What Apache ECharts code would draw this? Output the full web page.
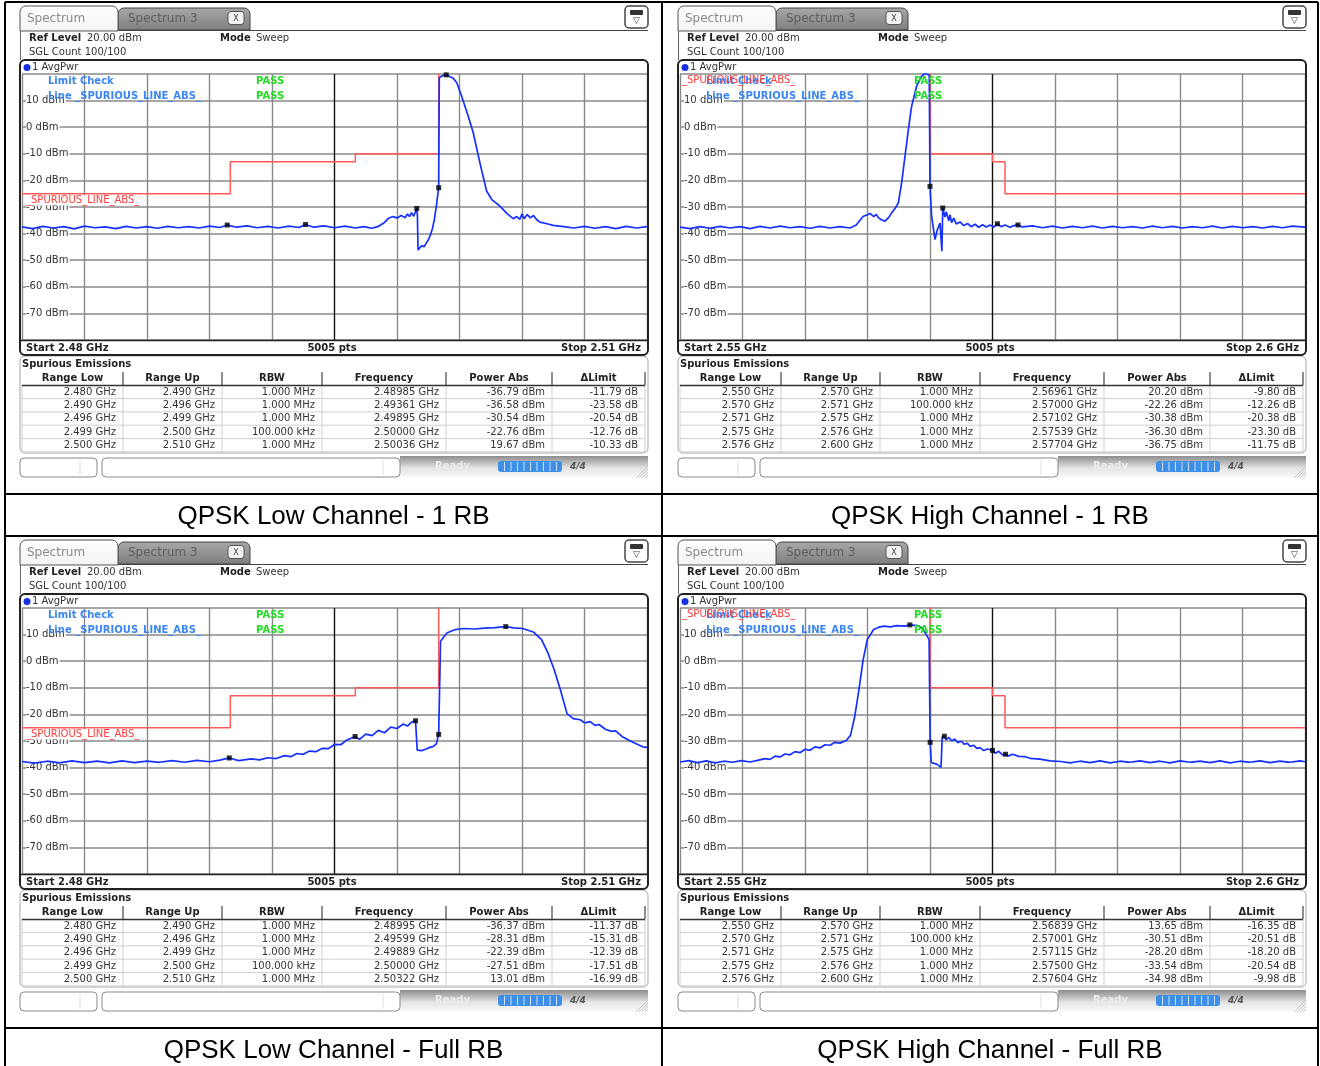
<!DOCTYPE html>
<html><head><meta charset="utf-8">
<script src="https://cdn.jsdelivr.net/npm/echarts@6/dist/echarts.min.js"></script>
<style>html,body{margin:0;padding:0;background:#fff}#c{width:1320px;height:1066px}</style>
</head><body><div id="c"></div>
<script>
// ---------- DATA ----------
const captions = ['QPSK Low Channel - 1 RB','QPSK High Channel - 1 RB','QPSK Low Channel - Full RB','QPSK High Channel - Full RB'];
const startFreqs = [2.48, 2.55, 2.48, 2.55];
const stopFreqs = [2.51, 2.60, 2.51, 2.60];
const startLabels = ['Start 2.48 GHz','Start 2.55 GHz','Start 2.48 GHz','Start 2.55 GHz'];
const stopLabels = ['Stop 2.51 GHz','Stop 2.6 GHz','Stop 2.51 GHz','Stop 2.6 GHz'];
const pointsLabel = '5005 pts';
const yMin = -80, yMax = 20, yStep = 10;
const tableHeaders = ['Range Low','Range Up','RBW','Frequency','Power Abs','\u0394Limit'];
const lowRangeLow = ['2.480 GHz','2.490 GHz','2.496 GHz','2.499 GHz','2.500 GHz'];
const lowRangeUp = ['2.490 GHz','2.496 GHz','2.499 GHz','2.500 GHz','2.510 GHz'];
const lowRbw = ['1.000 MHz','1.000 MHz','1.000 MHz','100.000 kHz','1.000 MHz'];
const highRangeLow = ['2.550 GHz','2.570 GHz','2.571 GHz','2.575 GHz','2.576 GHz'];
const highRangeUp = ['2.570 GHz','2.571 GHz','2.575 GHz','2.576 GHz','2.600 GHz'];
const highRbw = ['1.000 MHz','100.000 kHz','1.000 MHz','1.000 MHz','1.000 MHz'];

const lowOneFreq = [2.48985,2.49361,2.49895,2.50000,2.50036];
const lowOnePower = [-36.79,-36.58,-30.54,-22.76,19.67];
const lowOneDelta = [-11.79,-23.58,-20.54,-12.76,-10.33];
const highOneFreq = [2.56961,2.57000,2.57102,2.57539,2.57704];
const highOnePower = [20.20,-22.26,-30.38,-36.30,-36.75];
const highOneDelta = [-9.80,-12.26,-20.38,-23.30,-11.75];
const lowFullFreq = [2.48995,2.49599,2.49889,2.50000,2.50322];
const lowFullPower = [-36.37,-28.31,-22.39,-27.51,13.01];
const lowFullDelta = [-11.37,-15.31,-12.39,-17.51,-16.99];
const highFullFreq = [2.56839,2.57001,2.57115,2.57500,2.57604];
const highFullPower = [13.65,-30.51,-28.20,-33.54,-34.98];
const highFullDelta = [-16.35,-20.51,-18.20,-20.54,-9.98];

const lowLimit = [[2.480,-25],[2.490,-25],[2.490,-13],[2.496,-13],[2.496,-10],[2.499,-10],[2.500,-10],[2.500,30],[2.510,30]];
const highLimit = [[2.550,30],[2.570,30],[2.570,-10],[2.571,-10],[2.575,-10],[2.575,-13],[2.576,-13],[2.576,-25],[2.600,-25]];

const lowOneTrace = [
[2.4800,-37.5],[2.4805,-38.1],[2.4810,-37.3],[2.4815,-37.9],[2.4820,-37.4],[2.4825,-38.2],[2.4830,-37.2],[2.4835,-37.8],[2.4840,-37.5],[2.4845,-38.1],[2.4850,-37.3],[2.4855,-37.9],[2.4860,-37.4],[2.4865,-38.0],[2.4870,-37.3],[2.4875,-37.8],[2.4880,-37.4],[2.4885,-37.9],[2.4890,-37.2],[2.4895,-37.7],[2.48985,-36.79],[2.4903,-37.6],[2.4908,-37.1],[2.4913,-37.8],[2.4918,-37.3],[2.4923,-37.9],[2.4928,-37.2],[2.4933,-37.7],[2.49361,-36.58],[2.4940,-37.6],[2.4945,-37.1],[2.4950,-37.8],[2.4955,-37.2],[2.4960,-37.9],[2.4964,-37.4],[2.4968,-38.0],[2.4971,-37.3],[2.4974,-35.8],[2.4976,-34.2],[2.4978,-33.6],[2.4980,-34.1],[2.4982,-33.2],[2.4984,-34.0],[2.4985,-32.6],[2.4986,-33.6],[2.4987,-32.1],[2.4988,-33.5],[2.49895,-30.54],[2.49898,-33.2],[2.49901,-46.2],[2.4991,-45.3],[2.4992,-44.5],[2.4993,-45.0],[2.4994,-43.6],[2.4995,-42.4],[2.4996,-40.6],[2.4997,-38.2],[2.4998,-34.4],[2.4999,-29.0],[2.5000,-22.76],[2.50003,18.6],[2.50015,19.3],[2.50036,19.67],[2.50055,19.0],[2.50070,18.4],[2.50087,16.7],[2.50110,11.7],[2.50142,4.1],[2.50166,-2.1],[2.50198,-13.4],[2.50230,-24.0],[2.50255,-27.2],[2.50294,-29.7],[2.50327,-32.4],[2.50358,-34.4],[2.50375,-33.6],[2.50390,-34.6],[2.50400,-32.6],[2.50410,-34.4],[2.50425,-32.8],[2.50440,-34.1],[2.50455,-33.2],[2.50470,-34.7],[2.50486,-35.7],[2.50520,-36.3],[2.50550,-36.9],[2.5060,-37.4],[2.5065,-37.9],[2.5070,-37.3],[2.5075,-38.0],[2.5080,-37.4],[2.5085,-38.1],[2.5090,-37.3],[2.5095,-37.9],[2.5100,-37.4]
];
const highOneTrace = [
[2.5500,-37.6],[2.5508,-38.1],[2.5516,-37.4],[2.5524,-38.0],[2.5532,-37.3],[2.5540,-37.9],[2.5548,-37.4],[2.5556,-38.1],[2.5564,-37.3],[2.5572,-37.9],[2.5580,-37.2],[2.5588,-37.8],[2.5596,-37.4],[2.5604,-38.0],[2.5612,-37.3],[2.5620,-37.9],[2.5628,-37.4],[2.5636,-37.9],[2.5641,-36.8],[2.56440,-35.0],[2.56467,-33.5],[2.5650,-32.9],[2.5652,-32.4],[2.5655,-33.6],[2.5657,-32.8],[2.56587,-34.0],[2.5661,-34.8],[2.5664,-35.3],[2.5667,-33.9],[2.56693,-32.2],[2.56720,-30.6],[2.56747,-28.4],[2.56773,-20.9],[2.56800,-10.9],[2.56827,-0.9],[2.56853,7.9],[2.56893,15.4],[2.56933,19.2],[2.56961,20.20],[2.56994,19.5],[2.57000,-22.26],[2.57013,-33.5],[2.5704,-42.2],[2.57059,-38.5],[2.5708,-36.0],[2.57095,-46.6],[2.57102,-30.38],[2.5712,-33.8],[2.5713,-31.8],[2.5715,-35.2],[2.5716,-32.9],[2.57173,-35.9],[2.5719,-34.2],[2.5721,-36.4],[2.5724,-35.6],[2.5727,-37.0],[2.5730,-36.2],[2.5733,-37.4],[2.5736,-36.5],[2.5739,-37.6],[2.5742,-36.7],[2.5745,-37.5],[2.5748,-36.8],[2.5751,-37.6],[2.57539,-36.30],[2.5757,-37.4],[2.5760,-36.8],[2.5764,-37.6],[2.5767,-37.0],[2.57704,-36.75],[2.5774,-37.5],[2.5782,-37.1],[2.5790,-37.8],[2.5798,-37.2],[2.5806,-37.9],[2.5814,-37.3],[2.5822,-37.8],[2.5830,-37.2],[2.5838,-37.9],[2.5846,-37.3],[2.5854,-37.8],[2.5862,-37.4],[2.5870,-37.9],[2.5878,-37.2],[2.5886,-37.8],[2.5894,-37.3],[2.5902,-37.9],[2.5910,-37.4],[2.5918,-37.8],[2.5926,-37.2],[2.5934,-37.9],[2.5942,-37.3],[2.5950,-37.8],[2.5958,-37.4],[2.5966,-37.9],[2.5974,-37.3],[2.5982,-37.8],[2.5990,-37.2],[2.6000,-37.6]
];
const lowFullTrace = [
[2.4800,-37.7],[2.4806,-38.3],[2.4812,-37.6],[2.4818,-38.2],[2.4824,-37.5],[2.4830,-38.1],[2.4836,-37.6],[2.4842,-38.2],[2.4848,-37.5],[2.4854,-38.1],[2.4860,-37.6],[2.4866,-38.0],[2.4872,-37.4],[2.4878,-38.0],[2.4884,-37.3],[2.4890,-37.8],[2.4895,-37.2],[2.48995,-36.37],[2.4904,-37.4],[2.4910,-36.7],[2.4914,-37.1],[2.4918,-36.3],[2.4922,-36.6],[2.4926,-35.5],[2.4929,-35.9],[2.4932,-34.7],[2.4935,-35.0],[2.4938,-33.8],[2.4941,-34.0],[2.4944,-32.8],[2.4947,-32.9],[2.4950,-31.3],[2.4953,-31.4],[2.4956,-29.6],[2.49599,-28.31],[2.4962,-29.4],[2.4965,-27.4],[2.4968,-28.0],[2.4971,-26.0],[2.4974,-26.9],[2.4977,-24.8],[2.4980,-25.3],[2.4983,-23.6],[2.4985,-24.4],[2.4987,-22.9],[2.49889,-22.39],[2.49897,-33.4],[2.49918,-33.6],[2.49940,-33.0],[2.49958,-32.4],[2.49975,-32.0],[2.49989,-31.1],[2.50000,-27.51],[2.50009,7.5],[2.50039,10.6],[2.5008,11.9],[2.5012,12.3],[2.5017,12.1],[2.50221,12.4],[2.5027,12.6],[2.50322,13.01],[2.5036,12.5],[2.50403,12.3],[2.50454,11.0],[2.50494,8.1],[2.50525,3.0],[2.50555,-3.3],[2.50585,-10.9],[2.50616,-19.7],[2.50646,-21.6],[2.5068,-22.0],[2.5070,-23.2],[2.50727,-22.7],[2.5075,-24.1],[2.5077,-23.8],[2.5080,-25.6],[2.50808,-25.0],[2.5083,-26.4],[2.5085,-26.2],[2.5088,-28.3],[2.50889,-28.0],[2.5092,-30.0],[2.5095,-31.1],[2.5098,-32.2],[2.5100,-32.4]
];
const highFullTrace = [
[2.5500,-37.9],[2.5507,-37.4],[2.5514,-38.1],[2.5521,-37.5],[2.5528,-38.2],[2.5535,-37.6],[2.5542,-38.0],[2.5549,-37.4],[2.5556,-37.9],[2.5562,-37.3],[2.5568,-36.6],[2.5572,-36.9],[2.5576,-35.7],[2.5580,-36.0],[2.5584,-34.9],[2.5588,-35.2],[2.5592,-34.0],[2.5596,-34.4],[2.5600,-33.1],[2.5604,-33.5],[2.5608,-32.2],[2.5612,-32.6],[2.5616,-31.4],[2.5620,-31.6],[2.5624,-30.5],[2.5628,-30.8],[2.5633,-29.8],[2.56364,-27.9],[2.56397,-21.0],[2.56431,-10.9],[2.56465,0.5],[2.56498,8.1],[2.56549,11.9],[2.5659,12.8],[2.56633,13.2],[2.5668,12.9],[2.56734,13.4],[2.56800,13.2],[2.56839,13.65],[2.56902,13.4],[2.5694,12.4],[2.5697,10.0],[2.56993,8.1],[2.57001,-30.51],[2.5701,-38.0],[2.5703,-38.4],[2.57054,-38.7],[2.5707,-39.2],[2.57088,-39.9],[2.57098,-28.5],[2.57115,-28.20],[2.5713,-29.6],[2.5715,-28.6],[2.57172,-29.9],[2.5720,-29.3],[2.5722,-30.6],[2.5725,-30.1],[2.57273,-31.2],[2.5730,-30.9],[2.5732,-32.0],[2.5735,-31.6],[2.57374,-32.8],[2.5740,-32.5],[2.5743,-33.6],[2.5746,-33.0],[2.57500,-33.54],[2.5752,-34.6],[2.5755,-33.9],[2.5758,-35.2],[2.57604,-34.98],[2.5763,-35.6],[2.5766,-35.0],[2.5771,-35.8],[2.5776,-35.9],[2.5780,-36.5],[2.57879,-36.8],[2.5796,-37.5],[2.58047,-37.7],[2.5812,-38.2],[2.5820,-37.6],[2.5828,-38.1],[2.5836,-37.5],[2.5844,-38.2],[2.5852,-37.6],[2.5860,-38.0],[2.5868,-37.5],[2.5876,-38.1],[2.5884,-37.6],[2.5892,-38.2],[2.5900,-37.5],[2.5908,-38.0],[2.5916,-37.6],[2.5924,-38.1],[2.5932,-37.5],[2.5940,-38.2],[2.5948,-37.6],[2.5956,-38.0],[2.5964,-37.5],[2.5972,-38.1],[2.5980,-37.6],[2.5988,-38.0],[2.5996,-37.5],[2.6000,-37.8]
];

// ---------- LAYOUT ----------
const F = '"DejaVu Sans", sans-serif';
const panels = [
  {ox:0,   oy:0,   low:true,  trace:lowOneTrace,  limit:lowLimit,  freq:lowOneFreq,  pow:lowOnePower,  del:lowOneDelta},
  {ox:658, oy:0,   low:false, trace:highOneTrace, limit:highLimit, freq:highOneFreq, pow:highOnePower, del:highOneDelta},
  {ox:0,   oy:534, low:true,  trace:lowFullTrace, limit:lowLimit,  freq:lowFullFreq, pow:lowFullPower, del:lowFullDelta},
  {ox:658, oy:534, low:false, trace:highFullTrace,limit:highLimit, freq:highFullFreq,pow:highFullPower,del:highFullDelta}
];
const G = [];
function T(x,y,s,o){o=o||{};G.push({type:'text',x:x,y:y,z:o.z||20,silent:true,style:{text:s,fill:o.c||'#222',font:(o.i?'italic ':'')+(o.b?'bold ':'')+(o.s||10)+'px '+(o.f||F),align:o.a||'left',verticalAlign:'middle',backgroundColor:o.bg,padding:o.pad}});}
function R(x,y,w,h,st,r,z){G.push({type:'rect',z:z||1,silent:true,shape:{x:x,y:y,width:w,height:h,r:r||0},style:st});}
function L(x1,y1,x2,y2,c,w,z){G.push({type:'line',z:z||15,silent:true,shape:{x1:x1,y1:y1,x2:x2,y2:y2},style:{stroke:c,lineWidth:w||1}});}

const grids=[], xAxes=[], yAxes=[], series=[];
const vColors=['#8a8a8a','#8a8a8a','#8a8a8a','#8a8a8a','#8a8a8a','#111','#8a8a8a','#8a8a8a','#8a8a8a','#8a8a8a','#8a8a8a'];
const colBounds=[22,123,222,322,446,552,645];
const rowY=[392,405.3,418.6,432,445.3];

panels.forEach(function(p,i){
  const X=function(v){return p.ox+v;}, Y=function(v){return p.oy+v;};
  // tabs
  R(X(118),Y(8),132,22,{fill:{type:'linear',x:0,y:0,x2:0,y2:1,colorStops:[{offset:0,color:'#a8a8a8'},{offset:1,color:'#7e7e7e'}]},stroke:'#444',lineWidth:1},[6,6,0,0],2);
  T(X(128),Y(19),'Spectrum 3',{s:12,c:'#5e5e5e'});
  R(X(228),Y(11.5),16,13,{fill:'#f2f2f2',stroke:'#555',lineWidth:1},3,3);
  T(X(236),Y(18.5),'X',{s:8,c:'#444',a:'center'});
  L(X(118),Y(30.5),X(648),Y(30.5),'#444',1,3);
  R(X(20),Y(6),98,25,{fill:{type:'linear',x:0,y:0,x2:0,y2:1,colorStops:[{offset:0,color:'#ffffff'},{offset:1,color:'#f3f3f3'}]},stroke:'#555',lineWidth:1},[6,6,0,0],4);
  L(X(20.5),Y(30.5),X(20.5),Y(60),'#666',1,3);
  T(X(27),Y(18.5),'Spectrum',{s:12,c:'#8a8a8a'});
  R(X(625),Y(6),23,22,{fill:'#fff',stroke:'#444',lineWidth:1.5},4,5);
  R(X(630),Y(10),13,5,{fill:'#333'},1,6);
  T(X(636.5),Y(21),'\u25BD',{s:9,c:'#333',a:'center'});
  // header
  T(X(29),Y(38.5),'Ref Level',{b:true});
  T(X(87),Y(38.5),'20.00 dBm',{c:'#333'});
  T(X(220),Y(38.5),'Mode',{b:true});
  T(X(256),Y(38.5),'Sweep',{c:'#333'});
  T(X(29),Y(52.5),'SGL Count 100/100',{c:'#333'});
  // plot frame
  R(X(20),Y(60),628,295,{fill:'none',stroke:'#222',lineWidth:2},5,16);
  G.push({type:'circle',z:20,silent:true,shape:{cx:X(27),cy:Y(67.5),r:3.5},style:{fill:'#1530e0'}});
  T(X(32),Y(67.5),'1 AvgPwr',{c:'#333'});
  L(X(20),Y(340.5),X(648),Y(340.5),'#222',1.5,16);
  T(X(26),Y(348),startLabels[i],{b:true});
  T(X(332),Y(348),pointsLabel,{b:true,a:'center'});
  T(X(641),Y(348),stopLabels[i],{b:true,a:'right'});
  // limit check texts
  T(X(48),Y(81.5),'Limit Check',{b:true,c:'#3b86f0',z:22});
  T(X(256),Y(81.5),'PASS',{b:true,c:'#20dd20',z:22});
  T(X(48),Y(96),'Line _SPURIOUS_LINE_ABS_',{b:true,c:'#3b86f0',z:22});
  T(X(256),Y(96),'PASS',{b:true,c:'#20dd20',z:22});
  if(p.low){ T(X(26),Y(200.5),'_SPURIOUS_LINE_ABS_',{c:'#ff3c3c',bg:'#fff',z:21}); }
  else { T(X(24),Y(80.5),'_SPURIOUS_LINE_ABS_',{c:'#ff3c3c',z:23}); }
  // table
  R(X(20),Y(356),628,97,{fill:'#fff',stroke:'#a8a8a8',lineWidth:1},5,1);
  T(X(22),Y(364),'Spurious Emissions',{b:true});
  tableHeaders.forEach(function(h,k){ T(X((colBounds[k]+colBounds[k+1])/2),Y(378.5),h,{b:true,a:'center'}); });
  for(let k=1;k<colBounds.length;k++){ L(X(colBounds[k]),Y(372),X(colBounds[k]),Y(385),'#444',1.2,6); L(X(colBounds[k]),Y(385),X(colBounds[k]),Y(452),'#cfcfcf',1,5); }
  L(X(colBounds[0]),Y(385),X(colBounds[0]),Y(452),'#cfcfcf',1,5);
  L(X(22),Y(385.5),X(645),Y(385.5),'#333',1.5,6);
  rowY.forEach(function(ry){ L(X(22),Y(ry+6.6),X(645),Y(ry+6.6),'#cfcfcf',1,5); });
  const rl = p.low?lowRangeLow:highRangeLow, ru=p.low?lowRangeUp:highRangeUp, rb=p.low?lowRbw:highRbw;
  for(let r=0;r<5;r++){
    const cells=[rl[r],ru[r],rb[r],p.freq[r].toFixed(5)+' GHz',p.pow[r].toFixed(2)+' dBm',p.del[r].toFixed(2)+' dB'];
    cells.forEach(function(c,k){ T(X(colBounds[k+1]-7),Y(rowY[r]),c,{a:'right',c:'#333'}); });
  }
  // status bar
  R(X(400),Y(456),248,22,{fill:{type:'linear',x:0,y:0,x2:0,y2:1,colorStops:[{offset:0,color:'#8c8c8c'},{offset:0.55,color:'#e4e4e4'},{offset:1,color:'#fbfbfb'}]}},0,1);
  R(X(20),Y(458),77,19,{fill:'#fff',stroke:'#8a8a8a',lineWidth:1},4,2);
  L(X(80),Y(460),X(80),Y(475),'#ddd',1,3);
  R(X(102),Y(458),298,19,{fill:'#fff',stroke:'#8a8a8a',lineWidth:1},4,2);
  L(X(383),Y(460),X(383),Y(475),'#ddd',1,3);
  T(X(435),Y(466),'Ready',{b:true,c:'#ececec'});
  R(X(498),Y(461),64,11,{fill:'#3d8fe8'},3,2);
  for(let k=0;k<9;k++){ L(X(504.5+k*6.5),Y(462),X(504.5+k*6.5),Y(471),'#cfe3fb',1,3); }
  T(X(570),Y(466.5),'4/4',{b:true,i:true,s:9,c:'#555'});
  for(let k=0;k<4;k++){ L(X(636+k*3),Y(478),X(648),Y(466+k*3),'#c8c8c8',1,3); }

  // chart
  grids.push({left:X(22),top:Y(74),width:625,height:266,containLabel:false});
  xAxes.push({gridIndex:i,type:'value',min:startFreqs[i],max:stopFreqs[i],show:false});
  xAxes.push({gridIndex:i,type:'value',min:0,max:10,interval:1,position:'top',axisLine:{show:false},axisTick:{show:false},axisLabel:{show:false},splitLine:{show:true,lineStyle:{color:vColors,width:1.4}}});
  yAxes.push({gridIndex:i,type:'value',min:yMin,max:yMax,interval:yStep,axisLine:{show:false},axisTick:{show:false},
    splitLine:{show:true,lineStyle:{color:'#8a8a8a',width:1.5}},
    axisLabel:{inside:true,margin:4,fontFamily:F,fontSize:10,color:'#333',backgroundColor:'#fff',padding:[0,1,0,0],
      formatter:function(v){return (v===yMax||v===yMin)?'':v+' dBm';}}});
  series.push({type:'line',xAxisIndex:2*i,yAxisIndex:i,data:p.limit,symbol:'none',silent:true,z:3,lineStyle:{color:'#ff5a5a',width:1.5}});
  series.push({type:'line',xAxisIndex:2*i,yAxisIndex:i,data:p.trace,symbol:'none',silent:true,z:4,lineStyle:{color:'#1530ff',width:1.7}});
  series.push({type:'scatter',xAxisIndex:2*i,yAxisIndex:i,data:p.freq.map(function(f,k){return [f,p.pow[k]];}),symbol:'rect',symbolSize:5,silent:true,z:5,itemStyle:{color:'#000'}});
});

// outer table borders and captions
[5,662,1318].forEach(function(x){ L(x,2,x,1066,'#000',2,30); });
[2,494,536,1028].forEach(function(y){ L(5,y,1318,y,'#000',2,30); });
T(333.5,517,captions[0],{s:26,f:'"Liberation Sans", Arial, sans-serif',c:'#000',a:'center'});
T(990,517,captions[1],{s:26,f:'"Liberation Sans", Arial, sans-serif',c:'#000',a:'center'});
T(333.5,1051,captions[2],{s:26,f:'"Liberation Sans", Arial, sans-serif',c:'#000',a:'center'});
T(990,1051,captions[3],{s:26,f:'"Liberation Sans", Arial, sans-serif',c:'#000',a:'center'});

const chart = echarts.init(document.getElementById('c'),null,{renderer:'canvas'});
chart.setOption({backgroundColor:'#fff',animation:false,grid:grids,xAxis:xAxes,yAxis:yAxes,series:series,graphic:{elements:G}});
</script></body></html>
